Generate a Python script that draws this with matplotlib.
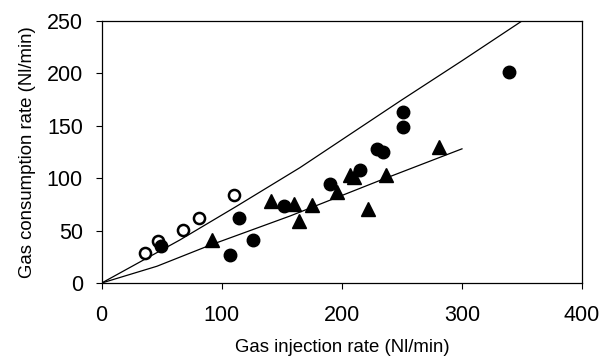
import matplotlib
matplotlib.use("Agg")
from matplotlib import pyplot as plt

plt.rcParams['font.family'] = ['Liberation Sans', 'DejaVu Sans']

# open circles
open_x = [36, 47, 68, 81, 110]
open_y = [29, 40, 51, 62, 84]

# filled circles
filled_x = [49, 107, 114, 126, 152, 190, 215, 229, 234, 251, 251, 339]
filled_y = [35, 27, 62, 41, 73, 94, 108, 128, 125, 163, 149, 201]

# filled triangles
tri_x = [92, 141, 160, 164, 175, 196, 207, 210, 222, 237, 281]
tri_y = [41, 78, 75, 59, 74, 87, 103, 101, 71, 103, 130]

# fitted curves
upper_x = [0, 65, 112, 165, 207, 249, 300, 350]
upper_y = [0, 41, 73, 110, 142, 174, 212, 250]
lower_x = [0, 46, 90, 157, 232, 300]
lower_y = [0, 16, 36, 64, 98, 128]

xticks = [0, 100, 200, 300, 400]
yticks = [0, 50, 100, 150, 200, 250]

fig = plt.figure(figsize=(6.14, 3.61), dpi=100)
ax = fig.add_axes([0.1656, 0.216, 0.7824, 0.726])

ax.plot(upper_x, upper_y, color='black', lw=0.9)
ax.plot(lower_x, lower_y, color='black', lw=0.9)
ax.plot(open_x, open_y, 'o', ms=8, mfc='white', mec='black', mew=1.8)
ax.plot(filled_x, filled_y, 'o', ms=9, color='black')
ax.plot(tri_x, tri_y, '^', ms=9.5, color='black')

ax.set_xlim(0, 400)
ax.set_ylim(0, 250)
ax.set_xticks(xticks)
ax.set_yticks(yticks)
ax.tick_params(direction='out', length=4.5, width=0.8, labelsize=15.5)
ax.tick_params(axis='x', pad=11)
ax.tick_params(axis='y', pad=9)
for s in ax.spines.values():
    s.set_linewidth(0.9)

ax.set_xlabel("Gas injection rate (Nl/min)", fontsize=13.4, labelpad=10)
ax.set_ylabel("Gas consumption rate (Nl/min)", fontsize=13.4, labelpad=8)

fig.savefig("out.png", dpi=100)
plt.close()
